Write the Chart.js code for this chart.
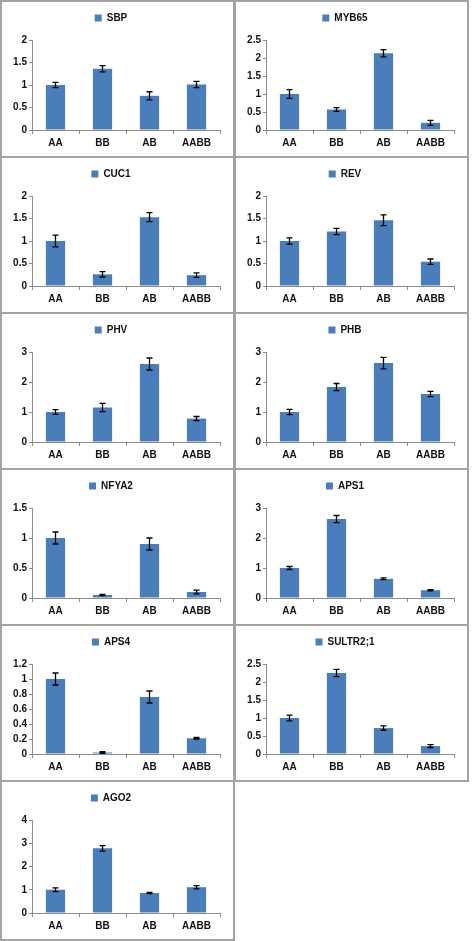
<!DOCTYPE html>
<html>
<head>
<meta charset="utf-8">
<script src="https://cdn.jsdelivr.net/npm/chart.js@4.4.1/dist/chart.umd.min.js"></script>
<style>
  html, body { margin: 0; padding: 0; background: #fff; }
  #wrap { position: relative; width: 472px; height: 941px; overflow: hidden; background: #fff; }
  .panel { position: absolute; box-sizing: border-box; border: 2px solid #a3a3a3; background: #fff; }
  .panel canvas { display: block; }
</style>
</head>
<body>
<div id="wrap"></div>
<script>
// Categories shared by every panel
const groups = ['AA', 'BB', 'AB', 'AABB'];

// Relative expression (mean) and error per gene
const sbpMean = [1.0, 1.36, 0.76, 1.01];
const sbpErr = [0.06, 0.07, 0.09, 0.07];
const myb65Mean = [1.0, 0.57, 2.13, 0.2];
const myb65Err = [0.12, 0.05, 0.1, 0.07];
const cuc1Mean = [1.0, 0.26, 1.53, 0.24];
const cuc1Err = [0.13, 0.06, 0.1, 0.05];
const revMean = [1.0, 1.21, 1.46, 0.54];
const revErr = [0.07, 0.07, 0.12, 0.06];
const phvMean = [1.0, 1.15, 2.6, 0.78];
const phvErr = [0.08, 0.14, 0.2, 0.07];
const phbMean = [1.0, 1.83, 2.63, 1.6];
const phbErr = [0.09, 0.12, 0.19, 0.09];
const nfya2Mean = [1.0, 0.05, 0.9, 0.1];
const nfya2Err = [0.1, 0.01, 0.1, 0.03];
const aps1Mean = [1.0, 2.63, 0.64, 0.26];
const aps1Err = [0.05, 0.12, 0.03, 0.02];
const aps4Mean = [1.0, 0.02, 0.76, 0.21];
const aps4Err = [0.08, 0.01, 0.08, 0.01];
const sultrMean = [1.0, 2.25, 0.72, 0.22];
const sultrErr = [0.08, 0.1, 0.06, 0.04];
const ago2Mean = [1.0, 2.78, 0.86, 1.11];
const ago2Err = [0.08, 0.12, 0.03, 0.07];

// y axis max and step per panel
const axisMax = [2, 2.5, 2, 2, 3, 3, 1.5, 3, 1.2, 2.5, 4];
const axisStep = [0.5, 0.5, 0.5, 0.5, 1, 1, 0.5, 1, 0.2, 0.5, 1];

const panels = [
  { name: 'SBP', mean: sbpMean, err: sbpErr },
  { name: 'MYB65', mean: myb65Mean, err: myb65Err },
  { name: 'CUC1', mean: cuc1Mean, err: cuc1Err },
  { name: 'REV', mean: revMean, err: revErr },
  { name: 'PHV', mean: phvMean, err: phvErr },
  { name: 'PHB', mean: phbMean, err: phbErr },
  { name: 'NFYA2', mean: nfya2Mean, err: nfya2Err },
  { name: 'APS1', mean: aps1Mean, err: aps1Err },
  { name: 'APS4', mean: aps4Mean, err: aps4Err },
  { name: 'SULTR2;1', mean: sultrMean, err: sultrErr },
  { name: 'AGO2', mean: ago2Mean, err: ago2Err }
];

const barColor = '#4a7ebb';
const axisColor = '#8c8c8c';
const font = { family: "'Liberation Sans', Arial, sans-serif", size: 10, weight: 'bold' };

// draws the black error whiskers on top of each bar
const errorBars = {
  id: 'errorBars',
  afterDatasetsDraw(chart) {
    const ds = chart.data.datasets[0];
    const meta = chart.getDatasetMeta(0);
    const yScale = chart.scales.y;
    const ctx = chart.ctx;
    ctx.save();
    ctx.strokeStyle = '#000';
    ctx.lineWidth = 1.3;
    meta.data.forEach((bar, i) => {
      const v = ds.data[i];
      const e = ds.errors[i];
      const yTop = yScale.getPixelForValue(v + e);
      const yBot = yScale.getPixelForValue(Math.max(v - e, 0));
      const x = bar.x;
      ctx.beginPath();
      ctx.moveTo(x, yTop); ctx.lineTo(x, yBot);
      ctx.moveTo(x - 3, yTop); ctx.lineTo(x + 3, yTop);
      ctx.moveTo(x - 3, yBot); ctx.lineTo(x + 3, yBot);
      ctx.stroke();
    });
    ctx.restore();
  }
};

// a bit more room under the legend, like the excel charts
const legendGap = {
  id: 'legendGap',
  beforeInit(chart) {
    const fit = chart.legend.fit;
    chart.legend.fit = function () {
      fit.call(this);
      this.height += 7;
    };
  }
};

const wrap = document.getElementById('wrap');

panels.forEach((p, i) => {
  const col = i % 2;
  const row = Math.floor(i / 2);
  const left = col ? 234 : 0;
  const top = row * 156;
  const w = 235;
  const h = row === 5 ? 941 - top : 158;

  const div = document.createElement('div');
  div.className = 'panel';
  div.style.left = left + 'px';
  div.style.top = top + 'px';
  div.style.width = w + 'px';
  div.style.height = h + 'px';
  const canvas = document.createElement('canvas');
  canvas.width = w - 4;
  canvas.height = h - 4;
  div.appendChild(canvas);
  wrap.appendChild(div);

  new Chart(canvas.getContext('2d'), {
    type: 'bar',
    data: {
      labels: groups,
      datasets: [{
        label: p.name,
        data: p.mean,
        errors: p.err,
        backgroundColor: barColor,
        borderWidth: 0,
        barPercentage: 0.41,
        categoryPercentage: 1
      }]
    },
    options: {
      responsive: false,
      animation: false,
      layout: { padding: { top: 1, right: 13, bottom: 4, left: 0 } },
      plugins: {
        legend: {
          position: 'top',
          labels: { boxWidth: 7, boxHeight: 7, padding: 10, color: '#111', font: font }
        },
        tooltip: { enabled: false }
      },
      scales: {
        x: {
          grid: { display: true, drawOnChartArea: false, drawTicks: true, tickLength: 4, color: axisColor },
          border: { display: true, color: axisColor },
          ticks: { color: '#111', font: font, padding: 3 }
        },
        y: {
          min: 0,
          max: axisMax[i],
          afterFit: s => { s.width = 30; },
          grid: { display: true, drawOnChartArea: false, drawTicks: true, tickLength: 3, color: axisColor },
          border: { display: true, color: axisColor },
          ticks: {
            stepSize: axisStep[i],
            color: '#111',
            font: font,
            padding: 2,
            callback: v => String(Number(v.toFixed(2)))
          }
        }
      }
    },
    plugins: [errorBars, legendGap]
  });
});
</script>
</body>
</html>
